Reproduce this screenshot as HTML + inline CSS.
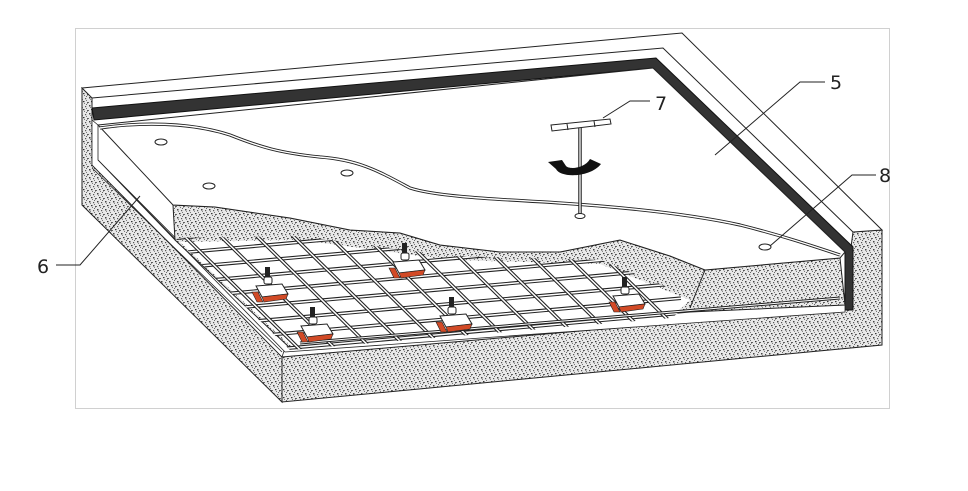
<!DOCTYPE html>
<html><head><meta charset="utf-8"><style>
html,body{margin:0;padding:0;background:#fff;}
svg{display:block;}
text{font-family:"DejaVu Sans","Liberation Sans",sans-serif;font-size:19px;fill:#222;}
</style></head><body>
<svg width="968" height="491" viewBox="0 0 968 491" xmlns="http://www.w3.org/2000/svg">
<defs>
<pattern id="sp" width="8" height="8" patternUnits="userSpaceOnUse">
<rect width="8" height="8" fill="#e8e8e8"/>
<rect x="1" y="1" width="1.5" height="1.5" fill="#444"/>
<rect x="5" y="2" width="1.2" height="1.2" fill="#555"/>
<rect x="3" y="5" width="1.5" height="1.2" fill="#333"/>
<rect x="7" y="6" width="1" height="1.5" fill="#555"/>
<rect x="0" y="6" width="1" height="1" fill="#666"/>
<rect x="6" y="0" width="1" height="1" fill="#666"/>
<rect x="2" y="3" width="1" height="1" fill="#888"/>
<rect x="6" y="4" width="1" height="1" fill="#777"/>
<rect x="4" y="7" width="1" height="1" fill="#777"/>
</pattern>
<clipPath id="mc"><polygon points="175,238 300,236 450,256 600,260 695,298 672,318 290,350"/></clipPath>
<g id="an">
<polygon points="-12,6 14,4 20,14 -6,17" fill="#fff" stroke="#222"/>
<polygon points="-6,17 20,14 18,19 -4,22" fill="#d24a26" stroke="#222" stroke-width="0.6"/>
<polygon points="-16,12 -10,12 -5,22 -11,22" fill="#d24a26" stroke="#222" stroke-width="0.6"/>
<rect x="-3" y="-13" width="5" height="11" fill="#222"/>
<rect x="-4" y="-3" width="8" height="7" rx="2" fill="#fff" stroke="#222"/>
</g>
</defs>
<rect x="75.5" y="28.5" width="814" height="380" fill="#fff" stroke="#d0d0d0"/>

<polygon points="82,88 92,95 92,165 282,357 282,402 82,205" fill="url(#sp)" stroke="#222" stroke-width="1"/>
<polygon points="282,357 843,308 853,232 882,230 882,345 282,402" fill="url(#sp)" stroke="#222" stroke-width="1"/>
<polygon points="82,88 682,33 882,230 853,232 663,48 92,98" fill="#fff" stroke="#222" stroke-width="1"/>
<line x1="92" y1="98" x2="92" y2="165" stroke="#222"/>
<polygon points="92,108 656,58 853,247 853,310 845,310 845,252 653,68 94,120" fill="#333" stroke="#111"/>
<polygon points="92,120 98,125 98,160 285,348 282,357 92,165" fill="#fff" stroke="#222" stroke-width="0.8"/>
<line x1="92" y1="168" x2="282" y2="352" stroke="#222" stroke-width="0.8"/>
<polygon points="98,160 175,240 690,305 845,300 845,312 285,352" fill="#fff" stroke="#222" stroke-width="0.8"/>
<path d="M173,205 L215,207 L290,218 L350,230 L400,233 L440,245 L500,252 L560,252 L620,240 L670,256 L705,270 L840,258 L845,305 L690,312 L290,348 L175,240 Z" fill="url(#sp)" stroke="#222" stroke-width="1"/>
<line x1="705" y1="270" x2="690" y2="308" stroke="#222"/>
<path d="M98,125 L653,68 L845,252 L840,258 L705,270 L670,256 L620,240 L560,252 L500,252 L440,245 L400,233 L350,230 L290,218 L215,207 L173,205 Z" fill="#fff" stroke="#222" stroke-width="1"/>
<path d="M100,128 C140,122 190,122 230,135 C260,147 280,153 320,157 C360,160 380,172 410,188 C440,198 520,200 560,203 C620,207 690,214 740,225 C780,235 810,245 840,255" fill="none" stroke="#222" stroke-width="3.2"/>
<path d="M100,128 C140,122 190,122 230,135 C260,147 280,153 320,157 C360,160 380,172 410,188 C440,198 520,200 560,203 C620,207 690,214 740,225 C780,235 810,245 840,255" fill="none" stroke="#fff" stroke-width="1.4"/>
<g fill="#fff" stroke="#222"><ellipse cx="161" cy="142" rx="6" ry="3"/><ellipse cx="209" cy="186" rx="6" ry="3"/><ellipse cx="347" cy="173" rx="6" ry="3"/><ellipse cx="765" cy="247" rx="6" ry="3"/></g>

<polygon points="180,242 300,240 450,260 600,264 690,300 672,316 292,347" fill="#fff"/>
<g clip-path="url(#mc)" id="mesh"></g>
<line x1="300" y1="343" x2="840" y2="298" stroke="#222" stroke-width="3"/>
<line x1="300" y1="343" x2="840" y2="298" stroke="#fff" stroke-width="1"/>
<use href="#an" x="268" y="280"/>
<use href="#an" x="405" y="256"/>
<use href="#an" x="313" y="320"/>
<use href="#an" x="452" y="310"/>
<use href="#an" x="625" y="290"/>

<line x1="580" y1="125" x2="580" y2="215" stroke="#222" stroke-width="3.5"/>
<line x1="580" y1="125" x2="580" y2="215" stroke="#fff" stroke-width="1.3"/>
<ellipse cx="580" cy="216" rx="5" ry="2.5" fill="#fff" stroke="#222"/>
<polygon points="551,125 610,119 611,124 552,131" fill="#fff" stroke="#222"/>
<line x1="567" y1="124" x2="568" y2="130" stroke="#222"/>
<line x1="594" y1="121" x2="595" y2="127" stroke="#222"/>
<path d="M562,160 L548,162 L556,169 C560,178 590,178 601,164 L590,159 C585,168 570,170 566,166 Z" fill="#111"/>
<g stroke="#222" stroke-width="1" fill="none">
<polyline points="603,118 630,101 650,101"/>
<polyline points="715,155 800,82 825,82"/>
<polyline points="770,246 852,175 876,175"/>
<polyline points="56,265 80,265 140,196"/>
</g>
<text x="655" y="110">7</text>
<text x="830" y="89">5</text>
<text x="879" y="182">8</text>
<text x="37" y="273">6</text>
<script>
(function(){
var ns="http://www.w3.org/2000/svg";
var g=document.getElementById('mesh');
function L(a,b,c,d,w,col){var l=document.createElementNS(ns,'line');l.setAttribute('x1',a);l.setAttribute('y1',b);l.setAttribute('x2',c);l.setAttribute('y2',d);l.setAttribute('stroke',col);l.setAttribute('stroke-width',w);g.appendChild(l);}
var BL=[178,238],FL=[290,348],FR=[672,314],BR=[560,204];
function P(u,v){var x1=BL[0]+(BR[0]-BL[0])*u,y1=BL[1]+(BR[1]-BL[1])*u,x2=FL[0]+(FR[0]-FL[0])*u,y2=FL[1]+(FR[1]-FL[1])*u;return[x1+(x2-x1)*v,y1+(y2-y1)*v];}
var i,a,b;
for(i=0;i<=8;i++){var v=i/8;a=P(-0.05,v);b=P(1.06,v);L(a[0],a[1],b[0],b[1],3.6,'#222');L(a[0],a[1],b[0],b[1],1.5,'#fff');}
for(i=0;i<=11;i++){var u=0.02+i/11.5;a=P(u,-0.05);b=P(u,1.04);L(a[0],a[1],b[0],b[1],3.6,'#222');L(a[0],a[1],b[0],b[1],1.5,'#fff');}
})();
</script>
</svg>
</body></html>
